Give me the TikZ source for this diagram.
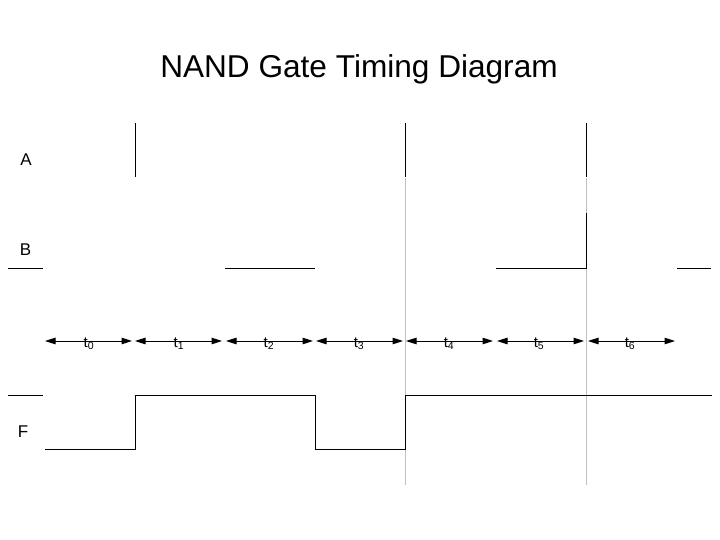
\documentclass[tikz,border=0pt]{standalone}
\usepackage{fontspec}
\setmainfont{Liberation Sans}
\usetikzlibrary{arrows.meta}
\begin{document}
\begin{tikzpicture}[x=1pt,y=-1pt,line width=1pt,
	span/.style={{Triangle[length=10.5pt,width=6.5pt]}-{Triangle[length=10.5pt,width=6.5pt]}},
	guide/.style={draw=black!25},
	tlabel/.style={anchor=base,inner sep=0pt,font=\fontsize{15}{17}\selectfont},
	sig/.style={anchor=base,inner sep=0pt,font=\fontsize{17}{20}\selectfont}]
	\useasboundingbox (0,0) rectangle (720,540);
	\node[anchor=base,inner sep=0pt,font=\fontsize{31.6}{38}\selectfont] (title) at (359,78) {NAND Gate Timing Diagram};
	% signal names
	\node[sig] (A) at (26,166) {A};
	\node[sig] (B) at (25.5,255) {B};
	\node[sig] (F) at (23,437) {F};
	% guide lines
	\draw[guide] (405,178) -- (405,485);
	\draw[guide] (586,178) -- (586,485);
	% A
	\draw (135,123) -- (135,177);
	\draw (405,123) -- (405,177);
	\draw (586,123) -- (586,177);
	% B
	\draw (8,268) -- (43,268);
	\draw (225,268) -- (315,268);
	\draw (496,268) -- (586,268) -- (586,213);
	\draw (677,268) -- (711,268);
	% time intervals
	\draw[span] (45,341) -- (132,341);
	\draw[span] (135,341) -- (222,341);
	\draw[span] (226,341) -- (313,341);
	\draw[span] (316,341) -- (403,341);
	\draw[span] (406,341) -- (493,341);
	\draw[span] (497,341) -- (584,341);
	\draw[span] (588,341) -- (675,341);
	\node[tlabel] (t0) at (89,347) {t\textsubscript{0}};
	\node[tlabel] (t1) at (179,347) {t\textsubscript{1}};
	\node[tlabel] (t2) at (269,347) {t\textsubscript{2}};
	\node[tlabel] (t3) at (359,347) {t\textsubscript{3}};
	\node[tlabel] (t4) at (449,347) {t\textsubscript{4}};
	\node[tlabel] (t5) at (539,347) {t\textsubscript{5}};
	\node[tlabel] (t6) at (630,347) {t\textsubscript{6}};
	% F
	\draw (8,395) -- (43,395);
	\draw (45,449) -- (135,449) -- (135,395) -- (315,395) -- (315,449) -- (405,449) -- (405,395) -- (712,395);
\end{tikzpicture}
\end{document}
